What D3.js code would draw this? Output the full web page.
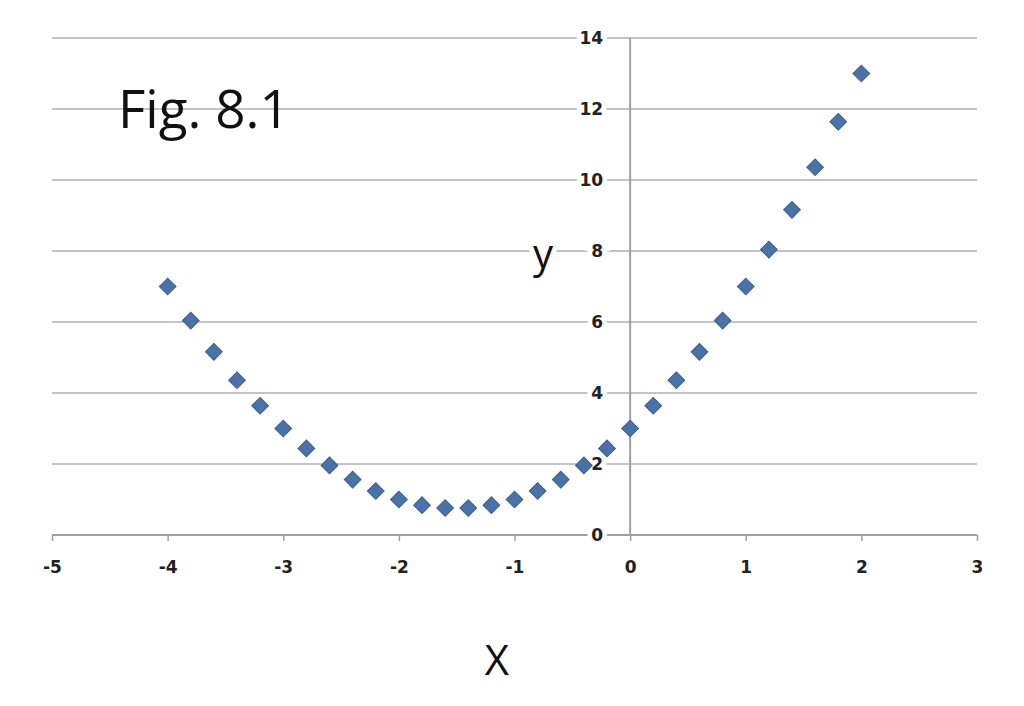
<!DOCTYPE html>
<html>
<head>
<meta charset="utf-8">
<script src="https://cdn.jsdelivr.net/npm/d3@7"></script>
<style>
	body { margin: 0; background: #fff; }
</style>
</head>
<body>
<div id="chart"></div>
<script>
// values
var xValues = [-4, -3.8, -3.6, -3.4, -3.2, -3, -2.8, -2.6, -2.4, -2.2, -2, -1.8, -1.6, -1.4, -1.2, -1,
	-0.8, -0.6, -0.4, -0.2, 0, 0.2, 0.4, 0.6, 0.8, 1, 1.2, 1.4, 1.6, 1.8, 2];
var yValues = [7, 6.04, 5.16, 4.36, 3.64, 3, 2.44, 1.96, 1.56, 1.24, 1, 0.84, 0.76, 0.76, 0.84, 1,
	1.24, 1.56, 1.96, 2.44, 3, 3.64, 4.36, 5.16, 6.04, 7, 8.04, 9.16, 10.36, 11.64, 13];
var xTicks = [-5, -4, -3, -2, -1, 0, 1, 2, 3];
var yTicks = [0, 2, 4, 6, 8, 10, 12, 14];

var margin = { top: 38, right: 47, bottom: 171, left: 52 };
var width = 1024 - margin.left - margin.right;
var height = 706 - margin.top - margin.bottom;

var svg = d3.select("#chart")
	.append("svg")
	.attr("width", 1024)
	.attr("height", 706)
	.append("g")
	.attr("transform", "translate(" + margin.left + "," + margin.top + ")");

var x = d3.scaleLinear().domain([-5, 3]).range([0, width]);
var y = d3.scaleLinear().domain([0, 14]).range([height, 0]);

// horizontal gridlines
svg.selectAll(".grid")
	.data(yTicks.filter((d) => d > 0))
	.enter()
	.append("line")
	.attr("class", "grid")
	.attr("x1", 0)
	.attr("x2", width)
	.attr("y1", (d) => y(d))
	.attr("y2", (d) => y(d))
	.attr("stroke", "#c4c4c4")
	.attr("stroke-width", 2);

// x axis along y = 0
var xAxis = svg.append("g")
	.attr("transform", "translate(0," + y(0) + ")")
	.call(d3.axisBottom(x).tickValues(xTicks).tickSize(6).tickPadding(20).tickFormat((d) => String(d)));
xAxis.select(".domain").attr("stroke", "#a0a0a0").attr("stroke-width", 2).attr("d", "M0,0H" + width);
xAxis.selectAll(".tick line").attr("stroke", "#a0a0a0").attr("stroke-width", 1.5);
xAxis.selectAll(".tick text")
	.attr("font-family", "'DejaVu Sans', sans-serif")
	.attr("font-size", 17)
	.attr("font-weight", "bold")
	.attr("fill", "#222");

// y axis along x = 0
var yAxis = svg.append("g")
	.attr("transform", "translate(" + x(0) + ",0)")
	.call(d3.axisLeft(y).tickValues(yTicks).tickSize(0).tickPadding(27).tickFormat((d) => String(d)));
yAxis.select(".domain").attr("stroke", "#a0a0a0").attr("stroke-width", 2).attr("d", "M0,0V" + height);
yAxis.selectAll(".tick text")
	.attr("font-family", "'DejaVu Sans', sans-serif")
	.attr("font-size", 17)
	.attr("font-weight", "bold")
	.attr("fill", "#222")
	.attr("stroke", "#fff")
	.attr("stroke-width", 9)
	.attr("paint-order", "stroke");

// diamond markers
var diamond = d3.symbol().type(d3.symbolSquare).size(140);
svg.selectAll(".pt")
	.data(xValues.map((d, i) => ({ x: d, y: yValues[i] })))
	.enter()
	.append("path")
	.attr("class", "pt")
	.attr("d", diamond)
	.attr("transform", (d) => "translate(" + x(d.x) + "," + y(d.y) + ") rotate(45)")
	.attr("fill", "#4a72a6")
	.attr("stroke", "#3b5e8c")
	.attr("stroke-width", 1);

// labels
svg.append("text")
	.attr("x", 118 - margin.left)
	.attr("y", 128 - margin.top)
	.attr("font-family", "'Open Sans', sans-serif")
	.attr("font-size", 53)
	.attr("fill", "#111")
	.text("Fig. 8.1");

svg.append("text")
	.attr("x", 543 - margin.left)
	.attr("y", 268 - margin.top)
	.attr("text-anchor", "middle")
	.attr("font-family", "'Open Sans', sans-serif")
	.attr("font-size", 40)
	.attr("fill", "#111")
	.attr("stroke", "#fff")
	.attr("stroke-width", 10)
	.attr("paint-order", "stroke")
	.text("y");

svg.append("text")
	.attr("x", 497 - margin.left)
	.attr("y", 675 - margin.top)
	.attr("text-anchor", "middle")
	.attr("font-family", "'Open Sans', sans-serif")
	.attr("font-size", 42)
	.attr("fill", "#111")
	.text("X");
</script>
</body>
</html>
